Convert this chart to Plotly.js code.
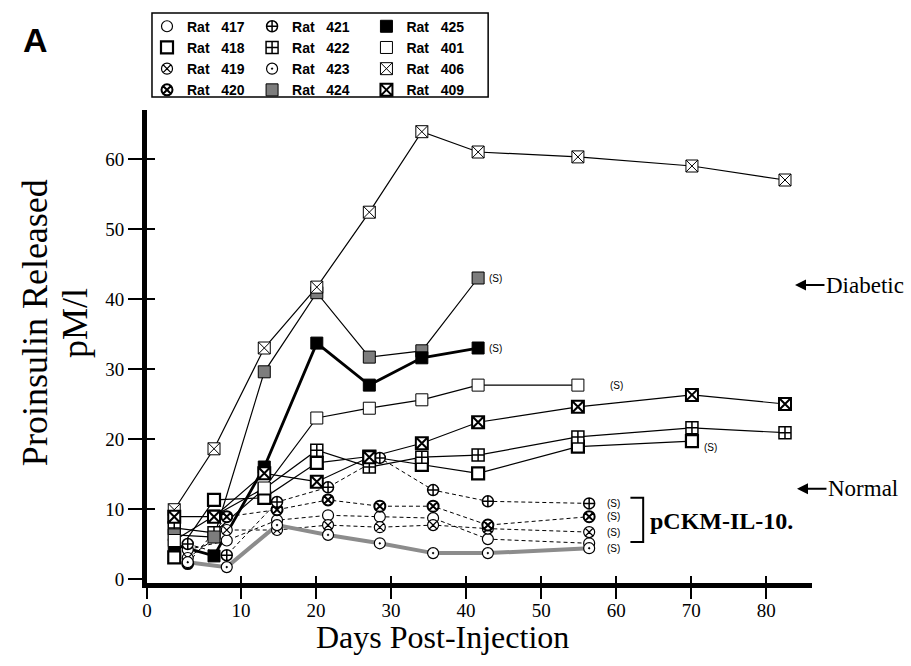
<!DOCTYPE html>
<html><head><meta charset="utf-8">
<script src="https://cdn.plot.ly/plotly-3.0.1.min.js"></script>
<style>html,body{margin:0;padding:0;background:#fff}#chart{width:911px;height:666px}</style>
</head><body><div id="chart"></div>
<script>
// ---- data ----
const daysCircle = [2.9, 8.1, 14.8, 21.6, 28.5, 35.6, 42.9, 56.4];
const daysSquare = [1.1, 6.4, 13.1, 20.1, 27.1, 34.1, 41.6, 54.9, 70.1, 82.5];

const rat417 = [4.2, 5.5, 8.4, 9.1, 8.9, 8.7, 5.7, 5.1];
const rat419 = [3.0, 7.0, 7.0, 7.7, 7.4, 7.7, 7.2, 6.7];
const rat420 = [2.2, 8.9, 9.9, 11.3, 10.4, 10.4, 7.7, 8.9];
const rat421 = [5.0, 3.4, 11.0, 13.1, 17.3, 12.7, 11.1, 10.8];
const rat423 = [2.4, 1.7, 7.7, 6.3, 5.1, 3.7, 3.7, 4.4];

const rat418 = [3.1, 11.3, 11.6, 16.6, 17.5, 16.3, 15.1, 18.9, 19.7];
const rat422 = [7.3, 6.6, 12.9, 18.4, 16.0, 17.4, 17.7, 20.3, 21.6, 20.9];
const rat424 = [6.3, 6.0, 29.6, 40.9, 31.7, 32.6, 43.0];
const rat425 = [4.9, 3.3, 16.0, 33.7, 27.7, 31.6, 33.0];
const rat401 = [5.5, 9.0, 13.0, 23.0, 24.4, 25.6, 27.7, 27.7];
const rat406 = [9.9, 18.6, 33.0, 41.7, 52.4, 63.9, 61.0, 60.3, 59.0, 57.0];
const rat409 = [8.9, 8.9, 15.1, 13.9, 17.4, 19.4, 22.4, 24.6, 26.3, 25.0];

const xTickVals = [-2.53, 10, 20, 30, 40, 50, 60, 70, 80];
const xTickText = ['0', '10', '20', '30', '40', '50', '60', '70', '80'];
const yTickVals = [0, 10, 20, 30, 40, 50, 60];

const diabeticLevel = 42.0;
const normalLevel = 12.9;

// ---- series styling ----
const DASH = '4px,3px';
const series = [
  // column 1
  {id:'417', x:daysCircle, y:rat417, sym:'circle', fill:'#fff', lw:1.2, line:{color:'#000', width:1, dash:DASH}, legend:'legend', s:false},
  {id:'418', x:daysSquare, y:rat418, sym:'square', fill:'#fff', lw:2.2, line:{color:'#000', width:1.2}, legend:'legend', s:true, sx:10, sy:-6},
  {id:'419', x:daysCircle, y:rat419, sym:'circle-x', fill:'#fff', lw:1.2, line:{color:'#000', width:1, dash:DASH}, legend:'legend', s:true, sx:16, sy:0},
  {id:'420', x:daysCircle, y:rat420, sym:'circle-x', fill:'#fff', lw:2, line:{color:'#000', width:1, dash:DASH}, legend:'legend', s:true, sx:16, sy:0},
  // column 2
  {id:'421', x:daysCircle, y:rat421, sym:'circle-cross', fill:'#fff', lw:1.5, line:{color:'#000', width:1, dash:DASH}, legend:'legend2', s:true, sx:16, sy:0},
  {id:'422', x:daysSquare, y:rat422, sym:'square-cross', fill:'#fff', lw:1.5, line:{color:'#000', width:1.2}, legend:'legend2', s:false},
  {id:'423', x:daysCircle, y:rat423, sym:'circle-dot', fill:'#fff', lw:1.2, line:{color:'#8c8c8c', width:4}, legend:'legend2', s:true, sx:16, sy:0},
  {id:'424', x:daysSquare, y:rat424, sym:'square', fill:'#7d7d7d', lw:1, line:{color:'#000', width:1.2}, legend:'legend2', s:true, sx:9, sy:0},
  // column 3
  {id:'425', x:daysSquare, y:rat425, sym:'square', fill:'#000', lw:1, line:{color:'#000', width:2.8}, legend:'legend3', s:true, sx:9, sy:0},
  {id:'401', x:daysSquare, y:rat401, sym:'square', fill:'#fff', lw:1, line:{color:'#000', width:1.2}, legend:'legend3', s:true, sx:30, sy:0},
  {id:'406', x:daysSquare, y:rat406, sym:'square-x', fill:'#fff', lw:1, line:{color:'#000', width:1.2}, legend:'legend3', s:false},
  {id:'409', x:daysSquare, y:rat409, sym:'square-x', fill:'#fff', lw:2, line:{color:'#000', width:1.2}, legend:'legend3', s:false}
];

const traces = [];
// lines first (so markers sit on top)
series.forEach(s => {
  traces.push({
    type:'scatter', mode:'lines', x:s.x.slice(0, s.y.length), y:s.y,
    line:s.line, showlegend:false, hoverinfo:'skip', xaxis:'x', yaxis:'y'
  });
});
series.forEach(s => {
  const isCircle = s.sym.indexOf('circle') === 0;
  traces.push({
    type:'scatter', mode:'markers', name:'<b>Rat\u00a0\u00a0\u00a0' + s.id + '</b>',
    x:s.x.slice(0, s.y.length), y:s.y, legend:s.legend,
    marker:{symbol:s.sym, size:isCircle ? 11 : 12, color:s.fill, line:{color:'#000', width:s.lw}}
  });
});
// empty helper trace so the overlay axes (inner half of the crossing ticks) exist
traces.push({type:'scatter', mode:'markers', x:[], y:[], xaxis:'x2', yaxis:'y2', showlegend:false, hoverinfo:'skip'});

const annotations = [];
series.forEach(s => {
  if (!s.s) return;
  const n = s.y.length - 1;
  annotations.push({
    x:s.x[n], y:s.y[n], xref:'x', yref:'y', text:'(S)', showarrow:false,
    xanchor:'left', xshift:s.sx, yshift:s.sy,
    font:{family:'Liberation Sans, Arial, sans-serif', size:10, color:'#000'}
  });
});

const serif = 'Liberation Serif, Times New Roman, serif';
annotations.push(
  {xref:'paper', yref:'paper', x:-0.168, y:1.148, xanchor:'center', yanchor:'middle', text:'<b>A</b>', showarrow:false,
   font:{family:'Liberation Sans, Arial, sans-serif', size:34, color:'#000'}},
  {xref:'paper', yref:'paper', x:-0.168, y:0.55, xanchor:'center', yanchor:'middle', text:'Proinsulin Released', textangle:-90, showarrow:false,
   font:{family:serif, size:36, color:'#000'}},
  {xref:'paper', yref:'paper', x:-0.108, y:0.55, xanchor:'center', yanchor:'middle', text:'pM/l', textangle:-90, showarrow:false,
   font:{family:serif, size:36, color:'#000'}},
  {xref:'paper', yref:'paper', x:0.445, y:-0.114, xanchor:'center', yanchor:'middle', text:'Days Post-Injection', showarrow:false,
   font:{family:serif, size:32, color:'#000'}},
  {xref:'paper', yref:'y', x:0.9744, y:diabeticLevel, text:'Diabetic', showarrow:true,
   ax:70, ay:0, arrowhead:2, arrowsize:1.1, arrowwidth:2, arrowcolor:'#000', standoff:0,
   font:{family:serif, size:23, color:'#000'}},
  {xref:'paper', yref:'y', x:0.9774, y:normalLevel, text:'Normal', showarrow:true,
   ax:66, ay:0, arrowhead:2, arrowsize:1.1, arrowwidth:2, arrowcolor:'#000', standoff:0,
   font:{family:serif, size:23, color:'#000'}},
  {xref:'x', yref:'y', x:64.3, y:8.3, xanchor:'left', yanchor:'middle', text:'<b>pCKM-IL-10.</b>', showarrow:false,
   font:{family:serif, size:24, color:'#000'}}
);

const legendBase = {
  xanchor:'left', yanchor:'top', y:1.210, bgcolor:'rgba(0,0,0,0)', borderwidth:0,
  orientation:'v', itemclick:false, itemdoubleclick:false,
  font:{family:'Liberation Sans, Arial, sans-serif', size:14, color:'#000'}
};

const xRange = [-2.53, 86.1];
const yRange = [-0.57, 67.0];

const layout = {
  width:911, height:666,
  margin:{l:147, r:99, t:110, b:83, autoexpand:false},
  paper_bgcolor:'#fff', plot_bgcolor:'#fff',
  xaxis:{range:xRange, tickvals:xTickVals, ticktext:xTickText, showgrid:false, zeroline:false,
         showline:true, linewidth:5, linecolor:'#000', ticks:'outside', ticklen:11, tickwidth:1.5, tickcolor:'#000',
         ticklabelstandoff:-5,
         tickfont:{family:serif, size:19, color:'#000'}},
  yaxis:{range:yRange, tickvals:yTickVals, showgrid:false, zeroline:false,
         showline:true, linewidth:5, linecolor:'#000', ticks:'outside', ticklen:14, tickwidth:1.5, tickcolor:'#000',
         tickfont:{family:serif, size:19, color:'#000'}},
  xaxis2:{range:xRange, tickvals:xTickVals.slice(1), overlaying:'x', anchor:'y2', side:'bottom',
          showgrid:false, zeroline:false, showline:false, showticklabels:false,
          ticks:'inside', ticklen:7, tickwidth:1.5, tickcolor:'#000'},
  yaxis2:{range:yRange, tickvals:yTickVals.slice(1), overlaying:'y', anchor:'x2', side:'left',
          showgrid:false, zeroline:false, showline:false, showticklabels:false,
          ticks:'inside', ticklen:8, tickwidth:1.5, tickcolor:'#000'},
  legend:Object.assign({}, legendBase, {x:0.0}),
  legend2:Object.assign({}, legendBase, {x:0.158}),
  legend3:Object.assign({}, legendBase, {x:0.330}),
  shapes:[
    {type:'rect', xref:'paper', yref:'paper', x0:0.0075, x1:0.513, y0:1.0275, y1:1.205,
     line:{color:'#000', width:1.5}, fillcolor:'rgba(0,0,0,0)'},
    {type:'path', xref:'x', yref:'y', path:'M 61.9 11.6 L 63.6 11.6 L 63.6 5.3 L 61.9 5.3',
     line:{color:'#000', width:2}}
  ],
  annotations:annotations,
  showlegend:true
};

Plotly.newPlot('chart', traces, layout, {displayModeBar:false, staticPlot:true});
</script>
</body></html>
